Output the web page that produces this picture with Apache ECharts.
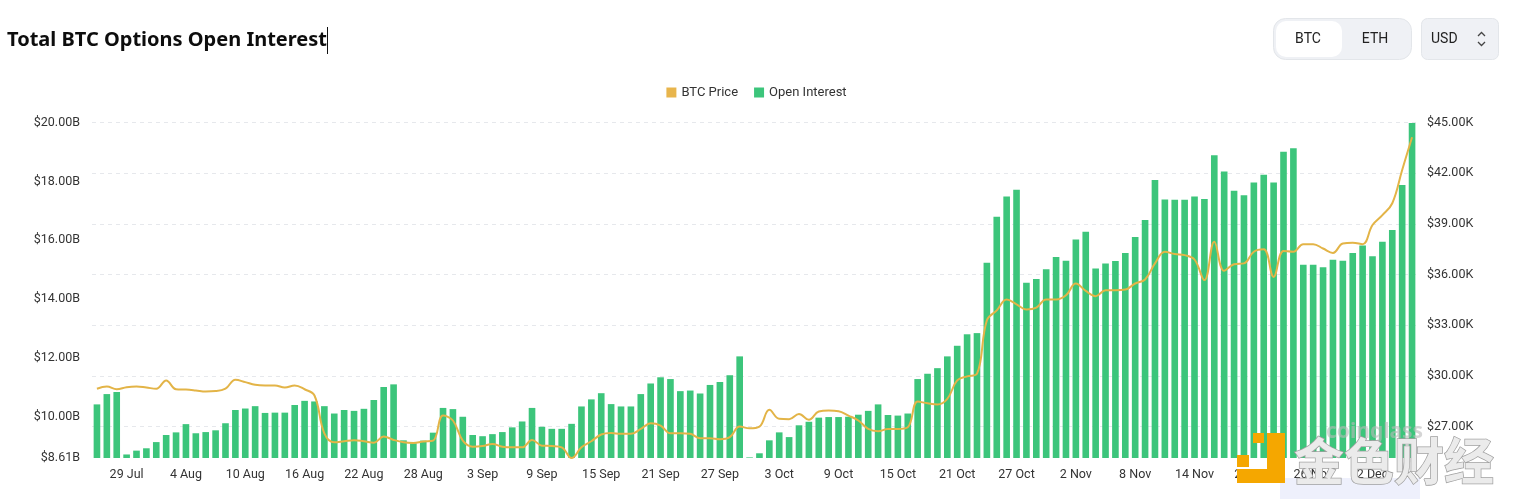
<!DOCTYPE html>
<html>
<head>
<meta charset="utf-8">
<script src="https://cdn.jsdelivr.net/npm/echarts@6/dist/echarts.min.js"></script>
<style>
html,body{margin:0;padding:0;background:#fff;}
#c{width:1513px;height:499px;}
</style>
</head>
<body>
<div id="c"></div>
<script>
// ---- data ----
const startDate = [2023, 6, 26]; // 26 Jul 2023, 134 daily points
const monthNames = ['Jan','Feb','Mar','Apr','May','Jun','Jul','Aug','Sep','Oct','Nov','Dec'];
const categories = (function(){
  const out = [];
  const d = new Date(Date.UTC(startDate[0], startDate[1], startDate[2]));
  for (let i = 0; i < 134; i++) {
    out.push(d.getUTCDate() + ' ' + monthNames[d.getUTCMonth()]);
    d.setUTCDate(d.getUTCDate() + 1);
  }
  return out;
})();

// Open interest, billions USD
const openInterestB = [
  10.43,10.78,10.85,8.73,8.86,8.94,9.15,9.39,9.48,9.76,9.45,9.49,9.55,9.79,10.24,10.29,10.37,10.14,10.15,10.15,10.41,10.55,10.53,10.37,10.12,10.24,10.21,10.28,10.58,11.02,11.11,9.21,9.11,9.20,
  9.47,10.31,10.27,10.01,9.39,9.35,9.42,9.49,9.65,9.85,10.31,9.67,9.60,9.60,9.77,10.36,10.60,10.81,10.44,10.36,10.36,10.78,11.14,11.35,11.29,10.88,10.90,10.80,11.09,11.19,11.42,12.06,
  8.63,8.77,9.21,9.48,9.32,9.72,9.84,9.98,10.00,10.00,10.01,10.08,10.21,10.43,10.07,10.05,10.12,11.29,11.47,11.66,12.06,12.42,12.81,12.85,15.24,16.80,17.49,17.72,14.56,14.69,15.02,15.43,15.31,
  16.03,16.29,15.04,15.21,15.30,15.57,16.11,16.69,18.05,17.39,17.38,17.38,17.49,17.40,18.89,18.34,17.68,17.53,17.96,18.23,17.96,19.01,19.13,15.17,15.17,15.09,15.34,15.31,15.57,15.82,15.46,15.95,16.35,17.88,19.98
];

// BTC price, thousands USD
const btcPriceK = [
  29.24,29.37,29.21,29.33,29.37,29.31,29.24,29.73,29.21,29.19,29.14,29.08,29.10,29.24,29.77,29.63,29.47,29.43,29.43,29.31,29.43,29.21,28.84,26.60,26.07,26.13,26.19,26.13,26.05,26.41,26.21,26.07,26.03,26.12,
  26.17,27.65,27.36,26.17,25.81,25.85,25.97,25.81,25.77,25.77,26.21,25.87,25.85,25.77,25.14,25.77,26.13,26.53,26.62,26.57,26.57,26.86,27.20,27.06,26.60,26.60,26.57,26.31,26.31,26.25,26.37,27.00,26.90,
  27.00,27.99,27.46,27.44,27.75,27.40,27.89,27.95,27.91,27.65,27.36,26.86,26.72,26.86,26.86,26.96,28.48,28.38,28.31,28.64,29.73,29.97,30.13,33.29,33.88,34.52,34.24,33.93,34.04,34.52,34.52,34.77,
  35.47,35.03,34.72,35.07,35.07,35.11,35.47,35.71,36.66,37.35,37.21,37.15,36.89,35.67,37.94,36.22,36.61,36.66,37.35,37.49,35.86,37.40,37.35,37.80,37.80,37.54,37.28,37.84,37.88,37.80,38.93,39.52,40.22,42.19,44.13
];

const leftTicks = [8.61e9, 10e9, 12e9, 14e9, 16e9, 18e9, 20e9];
const rightTicks = [27000, 30000, 33000, 36000, 39000, 42000, 45000];
const leftRange = [8.61e9, 20e9];
const rightRange = [25140, 45000];

// ---- chart ----
const chart = echarts.init(document.getElementById('c'), null, {renderer: 'canvas'});
const labelFont = 'Roboto, "Noto Sans", sans-serif';

const option = {
  animation: false,
  backgroundColor: '#fff',
  title: {
    text: 'Total BTC Options Open Interest',
    left: 2, top: 25,
    textStyle: {fontFamily: '"Noto Sans", "Open Sans", sans-serif', fontSize: 20, fontWeight: 'bold', color: '#0d0d0d'}
  },
  legend: {
    top: 81, left: 'center',
    icon: 'rect', itemWidth: 10, itemHeight: 10, itemGap: 16,
    textStyle: {fontFamily: labelFont, fontSize: 13, color: '#333'},
    data: ['BTC Price', 'Open Interest']
  },
  grid: {left: 92, right: 96, top: 122.5, bottom: 41, containLabel: false},
  xAxis: {
    type: 'category',
    data: categories,
    axisLine: {show: false},
    axisTick: {show: false},
    axisLabel: {
      interval: function(i){ return (i - 3) % 6 === 0; },
      color: '#333', fontFamily: labelFont, fontSize: 12.5, margin: 10
    }
  },
  yAxis: [
    {
      type: 'value', min: leftRange[0], max: leftRange[1], position: 'left',
      axisLine: {show: false}, axisTick: {show: false, customValues: leftTicks},
      splitLine: {show: false},
      axisLabel: {
        customValues: leftTicks, margin: 12, color: '#333', fontFamily: labelFont, fontSize: 12.5,
        formatter: function(v){ return '$' + (v / 1e9).toFixed(2) + 'B'; }
      }
    },
    {
      type: 'value', min: rightRange[0], max: rightRange[1], position: 'right',
      axisLine: {show: false}, axisTick: {show: false, customValues: rightTicks},
      splitLine: {show: true, lineStyle: {type: [4, 4], color: '#e6e8ec', width: 1}},
      axisLabel: {
        customValues: rightTicks, margin: 10, color: '#333', fontFamily: labelFont, fontSize: 12.5,
        formatter: function(v){ return '$' + (v / 1000).toFixed(2) + 'K'; }
      }
    }
  ],
  series: [
    {
      name: 'BTC Price', type: 'line', yAxisIndex: 1, z: 5,
      data: btcPriceK.map(function(v){ return v * 1000; }),
      smooth: 0.4, showSymbol: false, symbol: 'none',
      lineStyle: {color: '#e3b447', width: 2},
      itemStyle: {color: '#e8b54c'}
    },
    {
      name: 'Open Interest', type: 'bar', yAxisIndex: 0, z: 2,
      data: openInterestB.map(function(v){ return v * 1e9; }),
      barWidth: '67%',
      itemStyle: {color: '#3cc57b'}
    }
  ],
  graphic: [
    // text caret after title
    {type: 'rect', shape: {x: 327, y: 27, width: 1, height: 27}, style: {fill: '#111'}, z: 10},
    // BTC/ETH toggle
    {type: 'rect', shape: {x: 1273.5, y: 18.5, width: 138, height: 41, r: 12}, style: {fill: '#eff1f5', stroke: '#e3e6ea', lineWidth: 1}},
    {type: 'rect', shape: {x: 1276, y: 21, width: 66, height: 36, r: 10}, style: {fill: '#ffffff'}},
    {type: 'text', x: 1308, y: 39, style: {text: 'BTC', fill: '#222', font: '14px Roboto, sans-serif', align: 'center', verticalAlign: 'middle'}},
    {type: 'text', x: 1375, y: 39, style: {text: 'ETH', fill: '#222', font: '14px Roboto, sans-serif', align: 'center', verticalAlign: 'middle'}},
    // USD select
    {type: 'rect', shape: {x: 1421.5, y: 18.5, width: 77, height: 41, r: 6}, style: {fill: '#eff1f5', stroke: '#e3e6ea', lineWidth: 1}},
    {type: 'text', x: 1431, y: 39, style: {text: 'USD', fill: '#222', font: '14px Roboto, sans-serif', align: 'left', verticalAlign: 'middle'}},
    {type: 'polyline', shape: {points: [[1478, 36], [1481.5, 32.5], [1485, 36]]}, style: {stroke: '#444', lineWidth: 1.3, fill: null}},
    {type: 'polyline', shape: {points: [[1478, 42], [1481.5, 45.5], [1485, 42]]}, style: {stroke: '#444', lineWidth: 1.3, fill: null}},
    // watermark overlay
    {type: 'rect', shape: {x: 1280, y: 478, width: 140, height: 21}, style: {fill: '#eef0fc'}, z: -10, zlevel: 0},
    {type: 'text', x: 1326, y: 432, style: {text: 'coinglass', fill: 'rgba(185,185,185,0.6)', font: 'bold 21px "Noto Sans", sans-serif', align: 'left', verticalAlign: 'middle'}, z: 20},
    {type: 'rect', shape: {x: 1253, y: 433, width: 11, height: 10}, style: {fill: '#f5a700'}, z: 21},
    {type: 'rect', shape: {x: 1267, y: 433, width: 18, height: 50}, style: {fill: '#f5a700'}, z: 21},
    {type: 'rect', shape: {x: 1237, y: 469, width: 48, height: 14}, style: {fill: '#f5a700'}, z: 21},
    {type: 'rect', shape: {x: 1237, y: 455, width: 12, height: 12}, style: {fill: '#f5a700'}, z: 21},
    {type: 'text', x: 1294, y: 461, style: {text: '金色财经', fill: '#ebebeb', stroke: '#a0a0a0', lineWidth: 1.5, font: 'bold 50px "Noto Sans CJK SC", sans-serif', align: 'left', verticalAlign: 'middle', shadowColor: 'rgba(0,0,0,0.35)', shadowBlur: 3, shadowOffsetX: 2, shadowOffsetY: 2}, z: 21}
  ]
};
chart.setOption(option);
</script>
</body>
</html>
